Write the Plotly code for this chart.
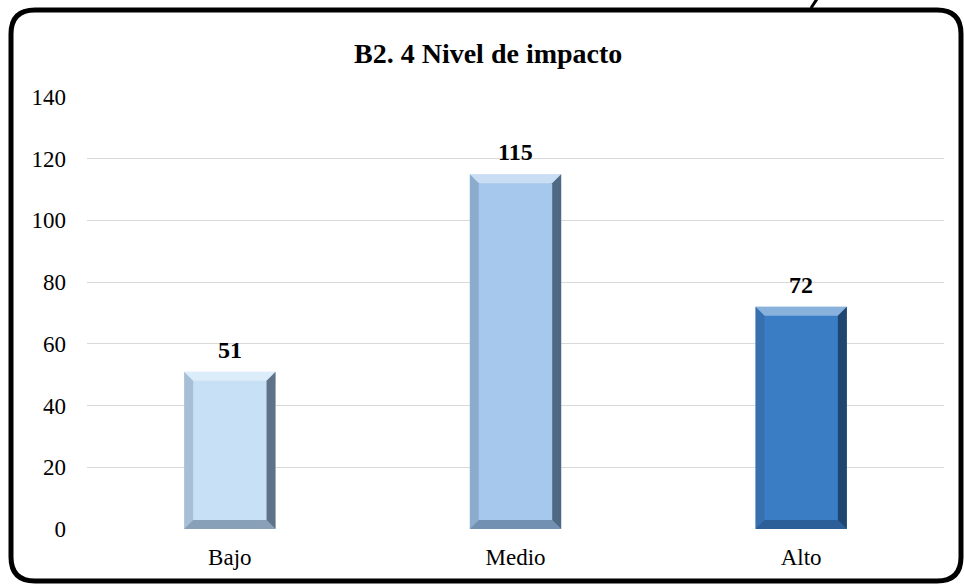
import plotly.graph_objects as go

categories = ["Bajo", "Medio", "Alto"]
values = [51, 115, 72]
colors = ["#C7E0F6", "#A5C8EC", "#3A7DC4"]
y_ticks = [0, 20, 40, 60, 80, 100, 120, 140]
title_text = "B2. 4 Nivel de impacto"

W, H = 964, 586
L, R, T, B = 87, 20, 97, 57
pw, ph = W - L - R, H - T - B

xs = list(range(len(categories)))

fig = go.Figure()
fig.add_trace(go.Bar(
    x=xs, y=values, marker=dict(color=colors, line=dict(width=0)),
    width=0.32, hoverinfo="skip", showlegend=False,
))

shapes = []
half = 0.16
dx = 9 / (pw / 3)
dy = 9 / (ph / 140)
for i, v in zip(xs, values):
    x0, x1 = i - half, i + half
    y0, y1 = 0, v
    shapes.append(dict(type="path", xref="x", yref="y",
        path=f"M{x0},{y1} L{x1},{y1} L{x1-dx},{y1-dy} L{x0+dx},{y1-dy} Z",
        fillcolor="rgba(255,255,255,0.40)", line=dict(width=0)))
    shapes.append(dict(type="path", xref="x", yref="y",
        path=f"M{x1},{y1} L{x1},{y0} L{x1-dx},{y0+dy} L{x1-dx},{y1-dy} Z",
        fillcolor="rgba(10,25,45,0.55)", line=dict(width=0)))
    shapes.append(dict(type="path", xref="x", yref="y",
        path=f"M{x0},{y0} L{x1},{y0} L{x1-dx},{y0+dy} L{x0+dx},{y0+dy} Z",
        fillcolor="rgba(20,40,70,0.35)", line=dict(width=0)))
    shapes.append(dict(type="path", xref="x", yref="y",
        path=f"M{x0},{y0} L{x0},{y1} L{x0+dx},{y1-dy} L{x0+dx},{y0+dy} Z",
        fillcolor="rgba(40,60,90,0.20)", line=dict(width=0)))


def px(x):
    return (x - L) / pw


def py(y):
    return (H - B - y) / ph


bl, br, bt, bb, rad = 11, 961, 10, 581, 24
path = (
    f"M{px(bl)},{py(bt+rad)} Q{px(bl)},{py(bt)} {px(bl+rad)},{py(bt)} "
    f"L{px(br-rad)},{py(bt)} Q{px(br)},{py(bt)} {px(br)},{py(bt+rad)} "
    f"L{px(br)},{py(bb-rad)} Q{px(br)},{py(bb)} {px(br-rad)},{py(bb)} "
    f"L{px(bl+rad)},{py(bb)} Q{px(bl)},{py(bb)} {px(bl)},{py(bb-rad)} Z"
)
shapes.append(dict(type="path", xref="paper", yref="paper", path=path,
                   line=dict(color="black", width=5), fillcolor="rgba(0,0,0,0)",
                   layer="above"))
# small stroke fragment above the border (cut-off glyph in the source)
shapes.append(dict(type="line", xref="paper", yref="paper",
                   x0=px(811), y0=py(8), x1=px(817), y1=py(-1),
                   line=dict(color="black", width=3), layer="above"))

annotations = []
for i, v in zip(xs, values):
    annotations.append(dict(x=i, y=v, xref="x", yref="y", text=f"<b>{v}</b>",
                            showarrow=False, yanchor="bottom", yshift=7,
                            font=dict(family="Liberation Serif", size=24, color="black")))
annotations.append(dict(x=px(488), y=py(53), xref="paper", yref="paper",
                        xanchor="center", yanchor="middle",
                        text=f"<b>{title_text}</b>", showarrow=False,
                        font=dict(family="Liberation Serif", size=28, color="black")))

fig.update_layout(
    width=W, height=H,
    margin=dict(l=L, r=R, t=T, b=B),
    paper_bgcolor="white", plot_bgcolor="white",
    shapes=shapes, annotations=annotations,
    font=dict(family="Liberation Serif", size=23, color="black"),
    xaxis=dict(range=[-0.5, 2.5], tickvals=xs, ticktext=categories,
               showgrid=False, zeroline=False, showline=False,
               ticks="", ticklabelstandoff=12, fixedrange=True),
    yaxis=dict(range=[0, 140], tickvals=y_ticks, showgrid=True,
               gridcolor="#D9D9D9", gridwidth=1, zeroline=False,
               showline=False, ticks="", ticklabelstandoff=20, fixedrange=True),
    bargap=0.68,
)

fig.write_html("out.html")
